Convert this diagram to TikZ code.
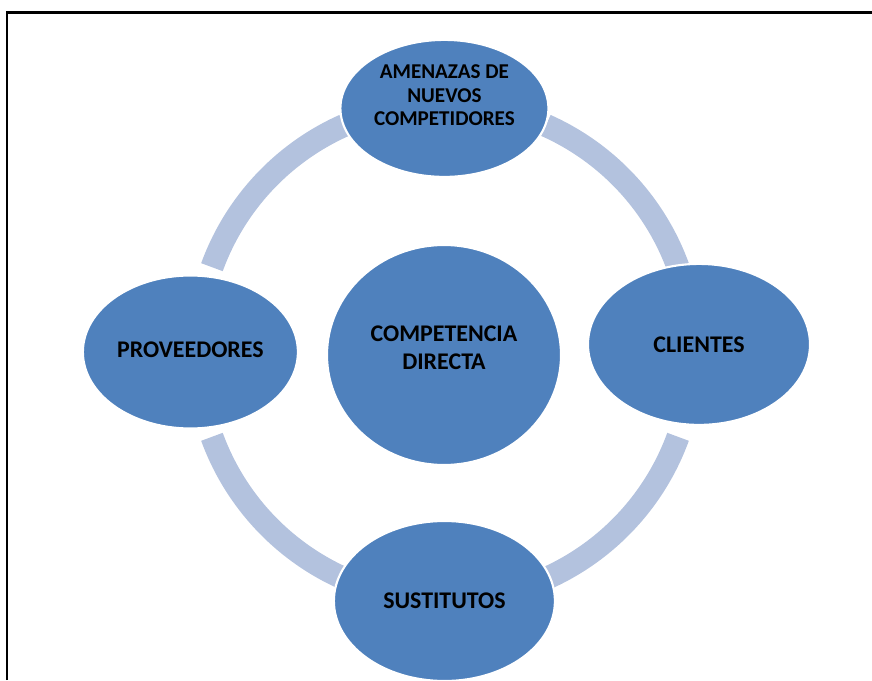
\documentclass[tikz,border=0pt]{standalone}
\usepackage{fontspec}
\setmainfont{Carlito}
\usetikzlibrary{shapes.geometric}
\definecolor{forceblue}{RGB}{79,129,189}
\definecolor{ringblue}{RGB}{179,194,222}
\newcommand{\lift}[2]{\raisebox{#1}[\height][\depth]{\begin{tabular}{@{}c@{}}#2\end{tabular}}}

\begin{document}
\begin{tikzpicture}[
                    % GLOBAL CFG
                    font=\bfseries\fontsize{17}{20}\selectfont,
                    % Styles
                    force/.style={% For the five forces
                            ellipse,
                            fill=forceblue,
                            draw=white,
                            line width=1.5pt,
                            inner sep=0pt,
                            align=center,
                        },
                    small/.style={% For the text that has to shrink
                            font=\bfseries\fontsize{15}{16.6}\selectfont,
                        },
                    ring/.style={% For the arcs round the centre
                            draw=ringblue,
                            line width=0.575cm,
                        },
                    frame/.style={% For the page border
                            line width=1.7pt,
                        },
                ]

                \useasboundingbox (0,0) rectangle (21.8,17);

                % Draw the border
                \draw [frame] (0.175,0) |- (21.8,16.6875);

                % Hub of the ring
                \coordinate (hub) at (11.125,8.2);

                % Draw the arcs between the forces
                \foreach \a in {20,114,200,294}
                    \draw [ring] ([shift={(\a:6.2)}]hub) arc [start angle=\a, delta angle=46, radius=6.2];

                % Draw the centre named comp
                \node [force, minimum width=5.85cm, minimum height=5.5cm] (comp) at (11.1,8.125) {\lift{3.4pt}{COMPETENCIA\\DIRECTA}};

                % Draw the outer forces
                \node [force, small, minimum width=5.2cm, minimum height=3.425cm] (threat) at (11.11,14.29) {\lift{7.8pt}{AMENAZAS DE\\NUEVOS\\COMPETIDORES}};
                \node [force, minimum width=5.375cm, minimum height=3.825cm] (supplier) at (4.76,8.2) {\lift{0.4pt}{PROVEEDORES}};
                \node [force, minimum width=5.55cm, minimum height=4.025cm] (client) at (17.475,8.39) {\lift{-1.6pt}{CLIENTES}};
                \node [force, minimum width=5.525cm, minimum height=4cm] (substitute) at (11.11,1.975) {\lift{-1.6pt}{SUSTITUTOS}};

            \end{tikzpicture}
\end{document}
